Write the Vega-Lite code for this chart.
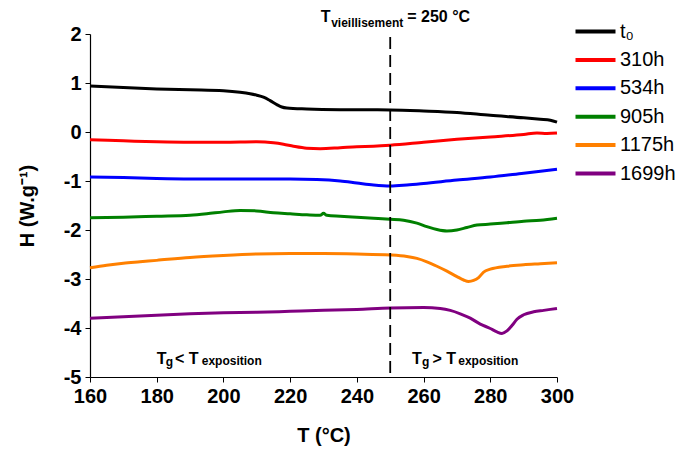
{
  "$schema": "https://vega.github.io/schema/vega-lite/v6.json",
  "width": 467,
  "height": 343,
  "autosize": {"type": "none"},
  "padding": {"left": 90, "top": 34, "right": 121, "bottom": 73},
  "background": "white",
  "config": {
    "view": {"stroke": null},
    "font": "Liberation Sans",
    "axis": {
      "grid": false,
      "domainColor": "black",
      "domainWidth": 1.2,
      "tickColor": "black",
      "tickWidth": 1,
      "labelFont": "Liberation Sans",
      "labelFontSize": 20,
      "labelFontWeight": "bold",
      "labelColor": "black",
      "labelFlush": false,
      "titleFont": "Liberation Sans",
      "titleFontSize": 20,
      "titleFontWeight": "bold",
      "titleColor": "black"
    }
  },
  "datasets": {
    "curves": [
      {"T": 160, "H": 0.94, "s": "t₀"}, {"T": 170, "H": 0.91, "s": "t₀"}, {"T": 180, "H": 0.88, "s": "t₀"}, {"T": 190, "H": 0.86, "s": "t₀"}, {"T": 200, "H": 0.84, "s": "t₀"}, {"T": 205, "H": 0.81, "s": "t₀"}, {"T": 208, "H": 0.78, "s": "t₀"}, {"T": 210, "H": 0.75, "s": "t₀"}, {"T": 212, "H": 0.71, "s": "t₀"}, {"T": 214, "H": 0.64, "s": "t₀"}, {"T": 216, "H": 0.56, "s": "t₀"}, {"T": 217.5, "H": 0.51, "s": "t₀"}, {"T": 219, "H": 0.49, "s": "t₀"}, {"T": 225, "H": 0.47, "s": "t₀"}, {"T": 235, "H": 0.455, "s": "t₀"}, {"T": 250, "H": 0.45, "s": "t₀"}, {"T": 260, "H": 0.43, "s": "t₀"}, {"T": 270, "H": 0.4, "s": "t₀"}, {"T": 280, "H": 0.34, "s": "t₀"}, {"T": 290, "H": 0.29, "s": "t₀"}, {"T": 295, "H": 0.26, "s": "t₀"}, {"T": 298, "H": 0.24, "s": "t₀"}, {"T": 300, "H": 0.2, "s": "t₀"},
      {"T": 160, "H": -0.16, "s": "310h"}, {"T": 170, "H": -0.18, "s": "310h"}, {"T": 180, "H": -0.2, "s": "310h"}, {"T": 190, "H": -0.21, "s": "310h"}, {"T": 200, "H": -0.21, "s": "310h"}, {"T": 210, "H": -0.2, "s": "310h"}, {"T": 215, "H": -0.22, "s": "310h"}, {"T": 218, "H": -0.25, "s": "310h"}, {"T": 221, "H": -0.29, "s": "310h"}, {"T": 225, "H": -0.33, "s": "310h"}, {"T": 229, "H": -0.34, "s": "310h"}, {"T": 235, "H": -0.32, "s": "310h"}, {"T": 240, "H": -0.3, "s": "310h"}, {"T": 245, "H": -0.29, "s": "310h"}, {"T": 250, "H": -0.27, "s": "310h"}, {"T": 260, "H": -0.21, "s": "310h"}, {"T": 270, "H": -0.15, "s": "310h"}, {"T": 280, "H": -0.1, "s": "310h"}, {"T": 290, "H": -0.05, "s": "310h"}, {"T": 294, "H": -0.02, "s": "310h"}, {"T": 297, "H": -0.03, "s": "310h"}, {"T": 300, "H": -0.02, "s": "310h"},
      {"T": 160, "H": -0.92, "s": "534h"}, {"T": 170, "H": -0.93, "s": "534h"}, {"T": 180, "H": -0.95, "s": "534h"}, {"T": 190, "H": -0.96, "s": "534h"}, {"T": 200, "H": -0.96, "s": "534h"}, {"T": 210, "H": -0.96, "s": "534h"}, {"T": 220, "H": -0.96, "s": "534h"}, {"T": 228, "H": -0.97, "s": "534h"}, {"T": 235, "H": -1.0, "s": "534h"}, {"T": 240, "H": -1.04, "s": "534h"}, {"T": 245, "H": -1.08, "s": "534h"}, {"T": 250, "H": -1.1, "s": "534h"}, {"T": 255, "H": -1.08, "s": "534h"}, {"T": 260, "H": -1.05, "s": "534h"}, {"T": 270, "H": -0.98, "s": "534h"}, {"T": 280, "H": -0.92, "s": "534h"}, {"T": 290, "H": -0.84, "s": "534h"}, {"T": 300, "H": -0.76, "s": "534h"},
      {"T": 160, "H": -1.75, "s": "905h"}, {"T": 170, "H": -1.74, "s": "905h"}, {"T": 180, "H": -1.72, "s": "905h"}, {"T": 190, "H": -1.7, "s": "905h"}, {"T": 195, "H": -1.67, "s": "905h"}, {"T": 200, "H": -1.63, "s": "905h"}, {"T": 205, "H": -1.6, "s": "905h"}, {"T": 210, "H": -1.61, "s": "905h"}, {"T": 215, "H": -1.65, "s": "905h"}, {"T": 220, "H": -1.67, "s": "905h"}, {"T": 225, "H": -1.69, "s": "905h"}, {"T": 229, "H": -1.7, "s": "905h"}, {"T": 230, "H": -1.66, "s": "905h"}, {"T": 231, "H": -1.7, "s": "905h"}, {"T": 235, "H": -1.72, "s": "905h"}, {"T": 240, "H": -1.74, "s": "905h"}, {"T": 245, "H": -1.76, "s": "905h"}, {"T": 250, "H": -1.78, "s": "905h"}, {"T": 254, "H": -1.8, "s": "905h"}, {"T": 258, "H": -1.86, "s": "905h"}, {"T": 261, "H": -1.93, "s": "905h"}, {"T": 264, "H": -1.99, "s": "905h"}, {"T": 267, "H": -2.02, "s": "905h"}, {"T": 270, "H": -2.0, "s": "905h"}, {"T": 273, "H": -1.95, "s": "905h"}, {"T": 276, "H": -1.9, "s": "905h"}, {"T": 280, "H": -1.88, "s": "905h"}, {"T": 285, "H": -1.85, "s": "905h"}, {"T": 290, "H": -1.82, "s": "905h"}, {"T": 295, "H": -1.8, "s": "905h"}, {"T": 300, "H": -1.76, "s": "905h"},
      {"T": 160, "H": -2.77, "s": "1175h"}, {"T": 165, "H": -2.72, "s": "1175h"}, {"T": 170, "H": -2.68, "s": "1175h"}, {"T": 175, "H": -2.65, "s": "1175h"}, {"T": 180, "H": -2.62, "s": "1175h"}, {"T": 190, "H": -2.56, "s": "1175h"}, {"T": 200, "H": -2.52, "s": "1175h"}, {"T": 210, "H": -2.49, "s": "1175h"}, {"T": 220, "H": -2.48, "s": "1175h"}, {"T": 230, "H": -2.48, "s": "1175h"}, {"T": 240, "H": -2.49, "s": "1175h"}, {"T": 250, "H": -2.51, "s": "1175h"}, {"T": 255, "H": -2.54, "s": "1175h"}, {"T": 258, "H": -2.58, "s": "1175h"}, {"T": 261, "H": -2.65, "s": "1175h"}, {"T": 264, "H": -2.74, "s": "1175h"}, {"T": 267, "H": -2.84, "s": "1175h"}, {"T": 270, "H": -2.95, "s": "1175h"}, {"T": 272, "H": -3.02, "s": "1175h"}, {"T": 273.5, "H": -3.05, "s": "1175h"}, {"T": 275, "H": -3.03, "s": "1175h"}, {"T": 276.5, "H": -2.97, "s": "1175h"}, {"T": 278, "H": -2.86, "s": "1175h"}, {"T": 280, "H": -2.8, "s": "1175h"}, {"T": 285, "H": -2.74, "s": "1175h"}, {"T": 290, "H": -2.71, "s": "1175h"}, {"T": 295, "H": -2.69, "s": "1175h"}, {"T": 300, "H": -2.67, "s": "1175h"},
      {"T": 160, "H": -3.8, "s": "1699h"}, {"T": 170, "H": -3.77, "s": "1699h"}, {"T": 180, "H": -3.74, "s": "1699h"}, {"T": 190, "H": -3.71, "s": "1699h"}, {"T": 200, "H": -3.69, "s": "1699h"}, {"T": 210, "H": -3.68, "s": "1699h"}, {"T": 220, "H": -3.66, "s": "1699h"}, {"T": 230, "H": -3.64, "s": "1699h"}, {"T": 240, "H": -3.62, "s": "1699h"}, {"T": 250, "H": -3.59, "s": "1699h"}, {"T": 260, "H": -3.58, "s": "1699h"}, {"T": 265, "H": -3.6, "s": "1699h"}, {"T": 268, "H": -3.64, "s": "1699h"}, {"T": 271, "H": -3.71, "s": "1699h"}, {"T": 274, "H": -3.8, "s": "1699h"}, {"T": 277, "H": -3.92, "s": "1699h"}, {"T": 280, "H": -4.01, "s": "1699h"}, {"T": 282, "H": -4.08, "s": "1699h"}, {"T": 283.5, "H": -4.11, "s": "1699h"}, {"T": 285, "H": -4.06, "s": "1699h"}, {"T": 286.5, "H": -3.95, "s": "1699h"}, {"T": 288, "H": -3.82, "s": "1699h"}, {"T": 290, "H": -3.73, "s": "1699h"}, {"T": 293, "H": -3.67, "s": "1699h"}, {"T": 296, "H": -3.64, "s": "1699h"}, {"T": 300, "H": -3.6, "s": "1699h"}
    ],
    "rule": [{"T": 250, "H": 1.94, "H2": -5}],
    "annBig": [
      {"T": 229.2, "H": 2.245, "txt": "T"},
      {"T": 255.1, "H": 2.245, "txt": "= 250 °C"}
    ],
    "annSmallTop": [
      {"T": 232.3, "H": 2.15, "txt": "vieillisement"}
    ],
    "annMid": [
      {"T": 180.0, "H": -4.735, "txt": "T"},
      {"T": 185.5, "H": -4.735, "txt": "< T"},
      {"T": 256.5, "H": -4.735, "txt": "T"},
      {"T": 262.7, "H": -4.735, "txt": "> T"}
    ],
    "annSub": [
      {"T": 182.7, "H": -4.77, "txt": "g"},
      {"T": 193.5, "H": -4.76, "txt": "exposition"},
      {"T": 259.5, "H": -4.77, "txt": "g"},
      {"T": 270.4, "H": -4.76, "txt": "exposition"}
    ]
  },
  "layer": [
    {
      "data": {"name": "curves"},
      "mark": {"type": "line", "strokeWidth": 3, "interpolate": "monotone"},
      "encoding": {
        "x": {
          "field": "T", "type": "quantitative",
          "scale": {"domain": [160, 300], "nice": false, "zero": false},
          "axis": {
            "title": "T (°C)",
            "values": [160, 170, 180, 190, 200, 210, 220, 230, 240, 250, 260, 270, 280, 290, 300],
            "labelExpr": "datum.value % 20 == 0 ? '' + datum.value : ''",
            "tickSize": {"expr": "datum.value % 20 == 0 ? 5 : 3"},
            "labelPadding": 4,
            "labelOverlap": false,
            "titlePadding": 19
          }
        },
        "y": {
          "field": "H", "type": "quantitative",
          "scale": {"domain": [-5, 2], "nice": false, "zero": false},
          "axis": {
            "title": "H (W.g⁻¹)",
            "values": [-5, -4.5, -4, -3.5, -3, -2.5, -2, -1.5, -1, -0.5, 0, 0.5, 1, 1.5, 2],
            "labelExpr": "datum.value % 1 == 0 ? '' + datum.value : ''",
            "tickSize": {"expr": "datum.value % 1 == 0 ? 5 : 3"},
            "labelPadding": 4,
            "labelOverlap": false,
            "titlePadding": 26
          }
        },
        "color": {
          "field": "s", "type": "nominal",
          "scale": {
            "domain": ["t₀", "310h", "534h", "905h", "1175h", "1699h"],
            "range": ["#000000", "#ff0000", "#0000ff", "#008000", "#ff8000", "#800080"]
          },
          "legend": {
            "title": null,
            "orient": "none",
            "legendX": 489,
            "legendY": -19,
            "symbolType": "M-1.414,0H1.414",
            "symbolSize": 800,
            "symbolStrokeWidth": 4,
            "labelFontSize": 20,
            "labelFont": "Liberation Sans",
            "labelColor": "black",
            "labelOffset": 8,
            "rowPadding": 1.4
          }
        }
      }
    },
    {
      "data": {"name": "rule"},
      "mark": {"type": "rule", "strokeDash": [12, 6], "strokeWidth": 1.8, "color": "black"},
      "encoding": {
        "x": {"field": "T", "type": "quantitative"},
        "y": {"field": "H", "type": "quantitative"},
        "y2": {"field": "H2"}
      }
    },
    {
      "data": {"name": "annBig"},
      "mark": {"type": "text", "align": "left", "baseline": "alphabetic", "fontSize": 16, "fontWeight": "bold", "color": "black"},
      "encoding": {
        "x": {"field": "T", "type": "quantitative"},
        "y": {"field": "H", "type": "quantitative"},
        "text": {"field": "txt"}
      }
    },
    {
      "data": {"name": "annSmallTop"},
      "mark": {"type": "text", "align": "left", "baseline": "alphabetic", "fontSize": 12, "fontWeight": "bold", "color": "black"},
      "encoding": {
        "x": {"field": "T", "type": "quantitative"},
        "y": {"field": "H", "type": "quantitative"},
        "text": {"field": "txt"}
      }
    },
    {
      "data": {"name": "annMid"},
      "mark": {"type": "text", "align": "left", "baseline": "alphabetic", "fontSize": 16, "fontWeight": "bold", "color": "black"},
      "encoding": {
        "x": {"field": "T", "type": "quantitative"},
        "y": {"field": "H", "type": "quantitative"},
        "text": {"field": "txt"}
      }
    },
    {
      "data": {"name": "annSub"},
      "mark": {"type": "text", "align": "left", "baseline": "alphabetic", "fontSize": 12, "fontWeight": "bold", "color": "black"},
      "encoding": {
        "x": {"field": "T", "type": "quantitative"},
        "y": {"field": "H", "type": "quantitative"},
        "text": {"field": "txt"}
      }
    }
  ]
}
